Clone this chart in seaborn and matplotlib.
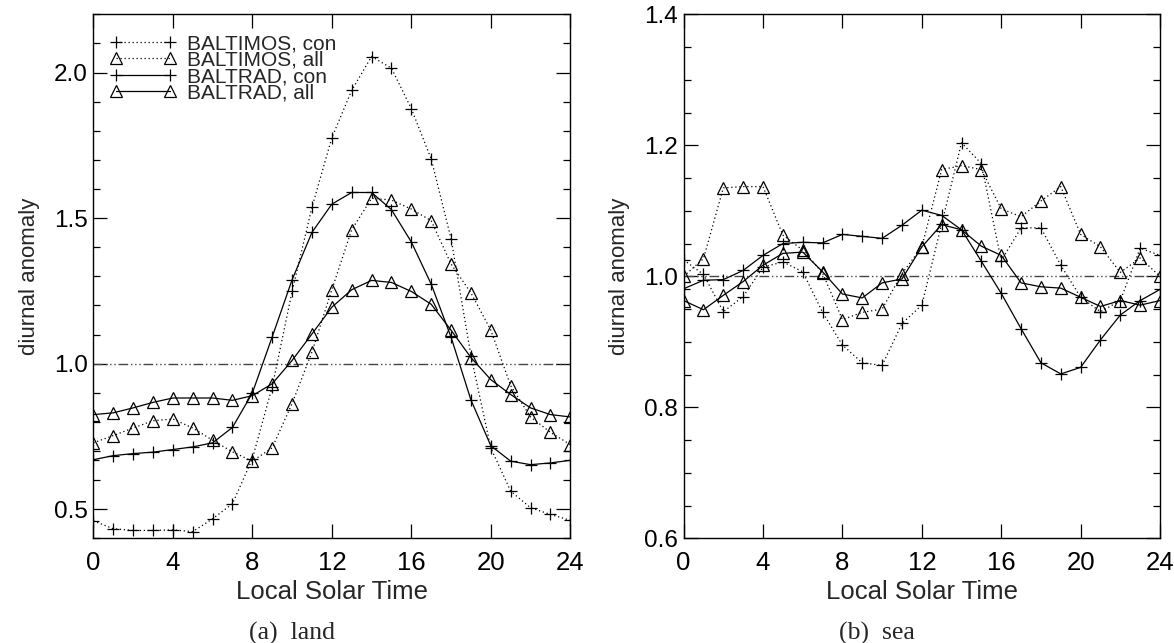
import matplotlib
matplotlib.use('Agg')
import matplotlib.pyplot as plt
from matplotlib.ticker import MultipleLocator
import seaborn as sns
import pandas as pd

# local solar time (hours)
hours = list(range(25))

series_labels = ['BALTIMOS, con', 'BALTIMOS, all', 'BALTRAD, con', 'BALTRAD, all']

# (a) land
land_baltimos_con = [0.460, 0.433, 0.427, 0.427, 0.429, 0.423, 0.467, 0.519, 0.673, 0.920,
                     1.248, 1.537, 1.776, 1.939, 2.055, 2.015, 1.876, 1.703, 1.429, 1.027,
                     0.710, 0.562, 0.505, 0.482, 0.462]
land_baltimos_all = [0.728, 0.753, 0.779, 0.804, 0.810, 0.779, 0.737, 0.697, 0.665, 0.711,
                     0.863, 1.040, 1.254, 1.460, 1.568, 1.562, 1.531, 1.491, 1.342, 1.243,
                     1.115, 0.924, 0.817, 0.764, 0.722]
land_baltrad_con = [0.670, 0.684, 0.691, 0.696, 0.705, 0.714, 0.728, 0.781, 0.899, 1.092,
                    1.288, 1.451, 1.548, 1.588, 1.588, 1.529, 1.418, 1.273, 1.091, 0.875,
                    0.718, 0.665, 0.653, 0.659, 0.668]
land_baltrad_all = [0.825, 0.831, 0.848, 0.867, 0.882, 0.882, 0.882, 0.874, 0.890, 0.931,
                    1.011, 1.102, 1.194, 1.254, 1.286, 1.279, 1.248, 1.204, 1.115, 1.021,
                    0.945, 0.894, 0.848, 0.825, 0.817]

# (b) sea
sea_baltimos_con = [1.025, 1.003, 0.946, 0.969, 1.014, 1.022, 1.007, 0.945, 0.895, 0.868,
                    0.864, 0.928, 0.956, 1.080, 1.204, 1.172, 1.024, 1.074, 1.074, 1.017,
                    0.968, 0.946, 0.963, 1.043, 1.032]
sea_baltimos_all = [1.000, 1.027, 1.135, 1.137, 1.137, 1.063, 1.040, 1.005, 0.934, 0.945,
                    0.950, 1.004, 1.045, 1.163, 1.169, 1.163, 1.103, 1.091, 1.115, 1.137,
                    1.064, 1.045, 1.006, 1.028, 1.000]
sea_baltrad_con = [0.981, 0.994, 0.995, 1.009, 1.032, 1.050, 1.052, 1.051, 1.064, 1.061,
                   1.058, 1.078, 1.101, 1.093, 1.071, 1.023, 0.974, 0.920, 0.868, 0.851,
                   0.861, 0.903, 0.941, 0.963, 0.980]
sea_baltrad_all = [0.963, 0.949, 0.971, 0.992, 1.017, 1.035, 1.037, 1.007, 0.973, 0.967,
                   0.990, 0.996, 1.045, 1.079, 1.071, 1.046, 1.032, 0.990, 0.984, 0.982,
                   0.968, 0.954, 0.963, 0.956, 0.963]


def to_long(cols):
    frames = []
    for lab, vals in zip(series_labels, cols):
        frames.append(pd.DataFrame({'hour': hours, 'value': vals, 'series': lab}))
    return pd.concat(frames, ignore_index=True)


df_land = to_long([land_baltimos_con, land_baltimos_all, land_baltrad_con, land_baltrad_all])
df_sea = to_long([sea_baltimos_con, sea_baltimos_all, sea_baltrad_con, sea_baltrad_all])

dotted = (0, (1, 2.2))
line_styles = {
    'BALTIMOS, con': dict(marker='+', ms=8, linestyle=dotted),
    'BALTIMOS, all': dict(marker='^', ms=8, linestyle=dotted),
    'BALTRAD, con': dict(marker='+', ms=8, linestyle='-'),
    'BALTRAD, all': dict(marker='^', ms=8, linestyle='-'),
}

sns.set_style('ticks')
plt.rcParams['font.family'] = ['Liberation Sans', 'DejaVu Sans']
plt.rcParams['axes.linewidth'] = 1.0

fig = plt.figure(figsize=(11.74, 6.43), dpi=100)
ax_land = fig.add_axes([0.0795, 0.1628, 0.4063, 0.8149])
ax_sea = fig.add_axes([0.5823, 0.1628, 0.4058, 0.8149])


def draw_panel(ax, df, ylim, minor):
    ax.axhline(1.0, color='#444444', lw=1.0, dashes=(7, 2, 1, 2, 1, 2, 1, 2), zorder=1)
    for lab in series_labels:
        sub = df[df['series'] == lab]
        sns.lineplot(data=sub, x='hour', y='value', ax=ax, color='k', lw=0.9,
                     mec='k', mfc='none', mew=0.9, errorbar=None, label=lab,
                     legend=False, zorder=3, **line_styles[lab])
    ax.set_xlim(0, 24)
    ax.set_ylim(*ylim)
    ax.xaxis.set_major_locator(MultipleLocator(4))
    ax.yaxis.set_minor_locator(MultipleLocator(minor))
    ax.tick_params(which='both', direction='in', top=True, right=True, colors='k')
    ax.tick_params(which='major', length=10, width=0.9)
    ax.tick_params(which='minor', length=5, width=0.9)
    ax.tick_params(axis='x', which='major', labelsize=18.5, pad=9)
    ax.tick_params(axis='y', which='major', labelsize=17.5, pad=4)
    ax.set_xlabel('Local Solar Time', fontsize=18.5, labelpad=4)
    ax.set_ylabel('diurnal anomaly', fontsize=16, labelpad=10)
    for sp in ax.spines.values():
        sp.set_color('k')


draw_panel(ax_land, df_land, (0.4, 2.2), 0.1)
ax_land.yaxis.set_major_locator(MultipleLocator(0.5))
ax_land.yaxis.set_major_formatter(plt.FormatStrFormatter('%.1f'))

draw_panel(ax_sea, df_sea, (0.6, 1.4), 0.05)
ax_sea.yaxis.set_major_locator(MultipleLocator(0.2))
ax_sea.yaxis.set_major_formatter(plt.FormatStrFormatter('%.1f'))

ax_land.legend(loc='upper left', bbox_to_anchor=(0.035, 0.962), frameon=False,
               numpoints=2, fontsize=15, handlelength=3.2, handletextpad=0.5,
               labelspacing=-0.12, borderpad=0, borderaxespad=0)

fig.text(292 / 1174, 1 - 633 / 643, '(a)  land', ha='center', va='center',
         fontsize=18.5, family=['Liberation Serif', 'DejaVu Serif'])
fig.text(877 / 1174, 1 - 633 / 643, '(b)  sea', ha='center', va='center',
         fontsize=18.5, family=['Liberation Serif', 'DejaVu Serif'])

fig.savefig('out.png', dpi=100)
plt.close(fig)
